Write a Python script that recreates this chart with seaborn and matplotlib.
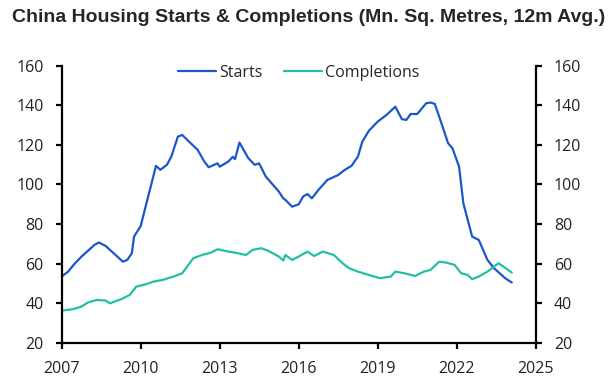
import pandas as pd
import matplotlib
matplotlib.use("Agg")
import matplotlib.pyplot as plt
import seaborn as sns

# ------------------------------
# Data (Mn. sq. metres, 12m avg.)
# ------------------------------
starts_dates = [
    "2007-01", "2007-04", "2007-07", "2007-10", "2008-01", "2008-04", "2008-06", "2008-09",
    "2008-12", "2009-03", "2009-05", "2009-07", "2009-09", "2009-10", "2010-01", "2010-03",
    "2010-06", "2010-08", "2010-10", "2011-01", "2011-03", "2011-06", "2011-08", "2011-11",
    "2012-03", "2012-06", "2012-08", "2012-12", "2013-01", "2013-05", "2013-07", "2013-08",
    "2013-10", "2014-02", "2014-05", "2014-07", "2014-10", "2015-04", "2015-06", "2015-07",
    "2015-10", "2016-01", "2016-03", "2016-05", "2016-07", "2016-10", "2017-02", "2017-07",
    "2017-10", "2018-01", "2018-04", "2018-06", "2018-09", "2019-01", "2019-05", "2019-09",
    "2019-12", "2020-02", "2020-04", "2020-07", "2020-11", "2021-01", "2021-03", "2021-05",
    "2021-09", "2021-11", "2022-02", "2022-04", "2022-08", "2022-11", "2023-03", "2023-06",
    "2023-11", "2024-02",
]
starts = [
    53.5, 56, 60, 63.5, 66.5, 69.5, 70.7, 69,
    66, 63, 61, 62, 65.3, 73.7, 79, 87.5,
    100.6, 109.4, 107.4, 110, 114, 124.2, 125, 121.7,
    117.5, 111.6, 108.7, 110.7, 109, 111.6, 114, 112.8,
    121.2, 113.3, 109.9, 110.7, 104, 96.4, 93, 92.2,
    88.8, 90, 93.9, 95.2, 93, 97.3, 102.3, 104.8,
    107.4, 109.4, 114.1, 121.7, 127.2, 131.8, 135.1, 139.3,
    133, 132.6, 135.6, 135.6, 141, 141.4, 140.7, 134.3,
    120.9, 118.3, 109, 90.5, 73.7, 72, 61.9, 57.7,
    52.7, 50.5,
]

comp_dates = [
    "2007-01", "2007-06", "2007-10", "2008-01", "2008-05", "2008-09", "2008-11", "2009-04",
    "2009-08", "2009-11", "2010-04", "2010-07", "2010-11", "2011-04", "2011-08", "2012-01",
    "2012-05", "2012-09", "2012-12", "2013-05", "2013-08", "2014-01", "2014-04", "2014-08",
    "2014-11", "2015-04", "2015-06", "2015-07", "2015-10", "2016-01", "2016-05", "2016-08",
    "2016-12", "2017-05", "2017-09", "2017-12", "2018-04", "2018-09", "2019-02", "2019-07",
    "2019-09", "2020-01", "2020-06", "2020-10", "2021-01", "2021-05", "2021-08", "2021-12",
    "2022-03", "2022-06", "2022-08", "2022-11", "2023-03", "2023-08", "2023-12", "2024-02",
]
completions = [
    36.3, 37, 38.3, 40.4, 41.7, 41.4, 40, 42,
    44.2, 48.4, 49.8, 51, 51.8, 53.5, 55.2, 62.8,
    64.4, 65.6, 67.3, 66.1, 65.6, 64.4, 67, 67.8,
    66.6, 63.6, 61.6, 64.4, 61.9, 63.6, 66.1, 63.9,
    66.1, 64.4, 60.2, 57.7, 56, 54.3, 52.7, 53.5,
    56, 55.2, 53.8, 56, 56.9, 61, 60.6, 59.4,
    55.2, 54.3, 52.2, 53.5, 56, 60.2, 57.2, 55.5,
]

tick_years = [2007, 2010, 2013, 2016, 2019, 2022, 2025]
y_ticks = [20, 40, 60, 80, 100, 120, 140, 160]

STARTS_COL = "#1a57c8"
COMP_COL = "#22bfa6"

# ------------------------------
# Plot
# ------------------------------
sns.set_style("white")
plt.rcParams["font.family"] = ["Open Sans", "DejaVu Sans"]

df_s = pd.DataFrame({"date": pd.to_datetime(starts_dates), "value": starts})
df_c = pd.DataFrame({"date": pd.to_datetime(comp_dates), "value": completions})

fig = plt.figure(figsize=(6.16, 3.91), dpi=100)
ax = fig.add_axes([0.100, 0.123, 0.770, 0.709])

sns.lineplot(data=df_s, x="date", y="value", ax=ax, color=STARTS_COL, lw=1.6, label="Starts")
sns.lineplot(data=df_c, x="date", y="value", ax=ax, color=COMP_COL, lw=1.6, label="Completions")

ax.set_xlim(pd.Timestamp("2007-01-01"), pd.Timestamp("2025-01-01"))
ax.set_ylim(20, 160)
ax.set_xticks([pd.Timestamp(f"{y}-01-01") for y in tick_years])
ax.set_xticklabels([str(y) for y in tick_years])
ax.set_yticks(y_ticks)
ax.set_xlabel("")
ax.set_ylabel("")

# right axis mirrors the left one
ax2 = ax.twinx()
ax2.set_ylim(20, 160)
ax2.set_yticks(y_ticks)

for a in (ax, ax2):
    for side in ["top", "left", "right", "bottom"]:
        a.spines[side].set_visible(False)
ax.spines["left"].set_visible(True)
ax.spines["bottom"].set_visible(True)
ax2.spines["right"].set_visible(True)
for sp in [ax.spines["left"], ax.spines["bottom"], ax2.spines["right"]]:
    sp.set_color("black")
    sp.set_linewidth(1.6)

ax.tick_params(axis="both", direction="out", length=4, width=1.6, color="black",
               labelsize=11.5, labelcolor="#222222", pad=9)
ax.tick_params(axis="y", left=True)
ax.tick_params(axis="x", bottom=True)
ax2.tick_params(axis="y", direction="out", length=4, width=1.6, color="black",
                labelsize=11.5, labelcolor="#222222", pad=9, right=True)

ax.legend(loc="upper center", bbox_to_anchor=(0.5, 1.055), ncol=2, frameon=False,
          fontsize=11.5, handlelength=2.4, columnspacing=1.3, handletextpad=0.2)

fig.text(0.019, 0.956, "China Housing Starts & Completions (Mn. Sq. Metres, 12m Avg.)",
         fontsize=14, fontweight="bold", family="Liberation Sans", va="center", ha="left")

fig.savefig("out.png", dpi=100)
